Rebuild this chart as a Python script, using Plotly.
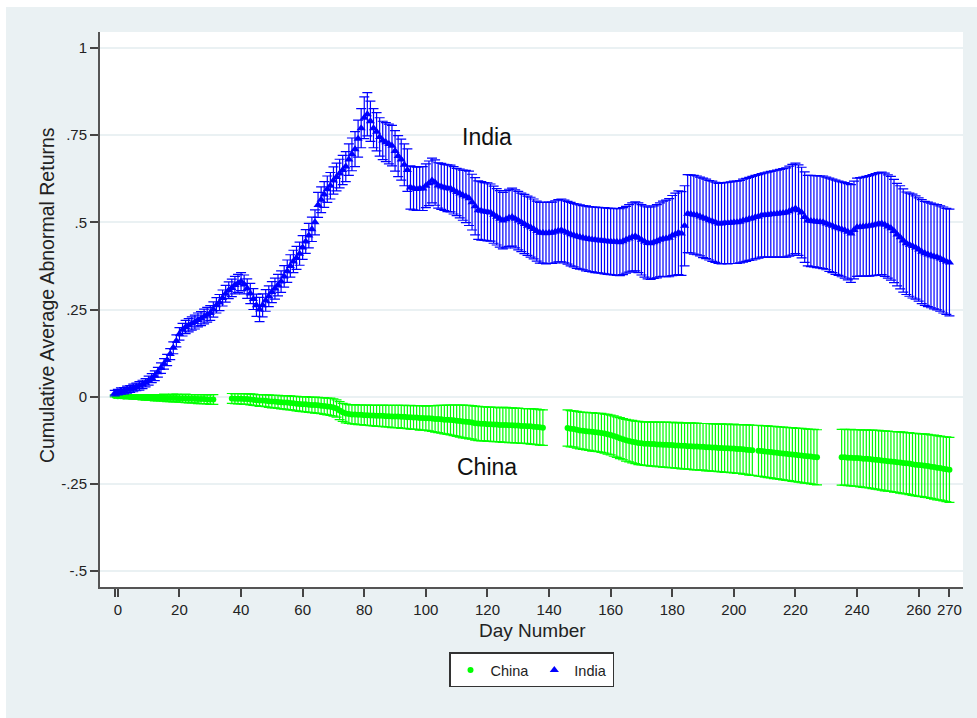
import plotly.graph_objects as go

# Event days (day -1 through day 270)
days = list(range(-1, 271))

# India: cumulative average abnormal returns and CI half-widths
india_car = [
    0.010,
    0.013, 0.016, 0.017, 0.020, 0.022, 0.025, 0.028, 0.031, 0.035, 0.040,
    0.046, 0.053, 0.060, 0.070, 0.082, 0.094, 0.105, 0.122, 0.140, 0.160,
    0.180, 0.192, 0.200, 0.205, 0.210, 0.214, 0.220, 0.224, 0.230, 0.235,
    0.240, 0.250, 0.262, 0.270, 0.283, 0.295, 0.305, 0.312, 0.320, 0.325,
    0.330, 0.322, 0.310, 0.296, 0.280, 0.262, 0.250, 0.262, 0.276, 0.288,
    0.300, 0.310, 0.320, 0.330, 0.345, 0.360, 0.375, 0.388, 0.398, 0.410,
    0.428, 0.445, 0.462, 0.480, 0.500, 0.550, 0.565, 0.580, 0.595, 0.605,
    0.620, 0.630, 0.640, 0.650, 0.660, 0.680, 0.695, 0.710, 0.740, 0.770,
    0.800, 0.810, 0.790, 0.770, 0.760, 0.745, 0.735, 0.730, 0.725, 0.720,
    0.705, 0.690, 0.680, 0.665, 0.650, 0.600, 0.598, 0.596, 0.597, 0.597,
    0.605, 0.612, 0.620, 0.614, 0.606, 0.603, 0.600, 0.598, 0.597, 0.592,
    0.587, 0.583, 0.578, 0.574, 0.569, 0.558, 0.546, 0.535, 0.533, 0.531,
    0.530, 0.528, 0.522, 0.516, 0.510, 0.505, 0.509, 0.513, 0.515, 0.510,
    0.505, 0.500, 0.495, 0.490, 0.486, 0.481, 0.475, 0.470, 0.470, 0.469,
    0.470, 0.470, 0.473, 0.476, 0.477, 0.474, 0.470, 0.466, 0.463, 0.460,
    0.458, 0.456, 0.454, 0.452, 0.451, 0.450, 0.449, 0.448, 0.447, 0.446,
    0.445, 0.444, 0.444, 0.443, 0.446, 0.450, 0.454, 0.458, 0.460, 0.456,
    0.450, 0.445, 0.441, 0.440, 0.443, 0.446, 0.450, 0.453, 0.454, 0.456,
    0.462, 0.466, 0.470, 0.468, 0.490, 0.525, 0.524, 0.522, 0.520, 0.517,
    0.513, 0.510, 0.506, 0.503, 0.500, 0.497, 0.497, 0.498, 0.498, 0.499,
    0.500, 0.500, 0.502, 0.505, 0.507, 0.510, 0.512, 0.515, 0.517, 0.520,
    0.521, 0.522, 0.523, 0.524, 0.525, 0.526, 0.527, 0.528, 0.532, 0.536,
    0.540, 0.535, 0.528, 0.515, 0.505, 0.504, 0.503, 0.502, 0.501, 0.500,
    0.497, 0.493, 0.490, 0.486, 0.483, 0.480, 0.477, 0.473, 0.468, 0.478,
    0.486, 0.487, 0.488, 0.489, 0.490, 0.492, 0.494, 0.496, 0.497, 0.493,
    0.488, 0.483, 0.475, 0.465, 0.457, 0.448, 0.440, 0.436, 0.432, 0.428,
    0.422, 0.416, 0.411, 0.408, 0.405, 0.402, 0.400, 0.396, 0.392, 0.388,
    0.385,
]

india_ci = [
    0.008,
    0.008, 0.009, 0.009, 0.010, 0.010, 0.011, 0.011, 0.012, 0.012, 0.012,
    0.013, 0.013, 0.014, 0.014, 0.015, 0.015, 0.016, 0.016, 0.017, 0.017,
    0.018, 0.018, 0.019, 0.019, 0.019, 0.020, 0.020, 0.020, 0.021, 0.021,
    0.021, 0.022, 0.022, 0.023, 0.023, 0.024, 0.024, 0.025, 0.025, 0.026,
    0.026, 0.027, 0.028, 0.029, 0.030, 0.032, 0.035, 0.033, 0.031, 0.030,
    0.030, 0.030, 0.031, 0.031, 0.031, 0.032, 0.032, 0.032, 0.033, 0.033,
    0.034, 0.034, 0.035, 0.035, 0.036, 0.036, 0.037, 0.037, 0.038, 0.038,
    0.039, 0.040, 0.041, 0.042, 0.043, 0.045, 0.047, 0.050, 0.053, 0.056,
    0.060, 0.062, 0.058, 0.056, 0.055, 0.055, 0.055, 0.056, 0.057, 0.058,
    0.058, 0.059, 0.059, 0.060, 0.061, 0.062, 0.062, 0.062, 0.063, 0.063,
    0.063, 0.064, 0.064, 0.065, 0.065, 0.066, 0.066, 0.067, 0.067, 0.068,
    0.068, 0.070, 0.072, 0.075, 0.078, 0.080, 0.082, 0.084, 0.084, 0.083,
    0.083, 0.082, 0.082, 0.081, 0.081, 0.081, 0.082, 0.082, 0.083, 0.083,
    0.084, 0.084, 0.085, 0.085, 0.086, 0.086, 0.086, 0.087, 0.087, 0.088,
    0.088, 0.088, 0.089, 0.089, 0.090, 0.090, 0.090, 0.091, 0.091, 0.092,
    0.092, 0.092, 0.093, 0.093, 0.093, 0.094, 0.094, 0.094, 0.095, 0.095,
    0.095, 0.095, 0.096, 0.096, 0.096, 0.096, 0.097, 0.098, 0.099, 0.100,
    0.101, 0.102, 0.103, 0.104, 0.104, 0.105, 0.106, 0.108, 0.110, 0.112,
    0.115, 0.118, 0.120, 0.120, 0.115, 0.112, 0.112, 0.113, 0.113, 0.113,
    0.114, 0.114, 0.114, 0.115, 0.115, 0.115, 0.116, 0.116, 0.117, 0.117,
    0.118, 0.118, 0.118, 0.119, 0.119, 0.119, 0.120, 0.120, 0.120, 0.120,
    0.121, 0.122, 0.123, 0.124, 0.125, 0.126, 0.127, 0.128, 0.129, 0.130,
    0.130, 0.130, 0.130, 0.130, 0.130, 0.131, 0.131, 0.132, 0.132, 0.133,
    0.133, 0.134, 0.134, 0.135, 0.135, 0.136, 0.137, 0.138, 0.140, 0.140,
    0.141, 0.141, 0.142, 0.143, 0.144, 0.145, 0.146, 0.147, 0.147, 0.148,
    0.148, 0.149, 0.148, 0.147, 0.148, 0.148, 0.147, 0.148, 0.149, 0.148,
    0.148, 0.149, 0.149, 0.150, 0.150, 0.150, 0.151, 0.151, 0.152, 0.152,
    0.153,
]

# China: cumulative average abnormal returns and CI half-widths (None = no observation)
china_car = [
    0.002,
    0.001, 0.001, 0.000, 0.000, 0.000, -0.001, -0.001, -0.001, -0.002, -0.002,
    -0.002, -0.002, -0.003, -0.003, -0.003, -0.003, -0.004, -0.004, -0.004, -0.004,
    -0.005, -0.005, -0.005, -0.006, -0.006, -0.006, -0.007, -0.007, -0.007, -0.008,
    -0.008, -0.008, None, None, None, None, None, -0.005, -0.006, -0.006,
    -0.006, -0.007, -0.007, -0.008, -0.009, -0.010, -0.011, -0.011, -0.012, -0.013,
    -0.014, -0.014, -0.015, -0.016, -0.017, -0.017, -0.018, -0.019, -0.020, -0.021,
    -0.022, -0.022, -0.023, -0.024, -0.024, -0.025, -0.026, -0.027, -0.028, -0.029,
    -0.031, -0.034, -0.040, -0.045, -0.048, -0.050, -0.051, -0.051, -0.052, -0.052,
    -0.053, -0.053, -0.054, -0.054, -0.055, -0.055, -0.055, -0.056, -0.056, -0.057,
    -0.057, -0.057, -0.058, -0.058, -0.059, -0.059, -0.060, -0.060, -0.061, -0.061,
    -0.062, -0.062, -0.063, -0.064, -0.064, -0.065, -0.066, -0.066, -0.067, -0.068,
    -0.069, -0.070, -0.071, -0.072, -0.073, -0.074, -0.076, -0.077, -0.078, -0.078,
    -0.079, -0.079, -0.080, -0.080, -0.081, -0.081, -0.081, -0.082, -0.082, -0.083,
    -0.083, -0.084, -0.084, -0.085, -0.085, -0.086, -0.087, -0.088, -0.089, None,
    None, None, None, None, None, None, -0.090, -0.092, -0.093, -0.095,
    -0.097, -0.098, -0.099, -0.100, -0.101, -0.102, -0.103, -0.104, -0.106, -0.108,
    -0.110, -0.113, -0.116, -0.119, -0.122, -0.125, -0.127, -0.129, -0.131, -0.133,
    -0.134, -0.135, -0.135, -0.136, -0.136, -0.137, -0.137, -0.138, -0.138, -0.139,
    -0.139, -0.140, -0.140, -0.141, -0.141, -0.142, -0.142, -0.143, -0.143, -0.144,
    -0.144, -0.145, -0.145, -0.146, -0.146, -0.147, -0.147, -0.148, -0.148, -0.149,
    -0.149, -0.150, -0.150, -0.151, -0.152, -0.153, -0.154, None, -0.155, -0.156,
    -0.157, -0.158, -0.159, -0.160, -0.161, -0.162, -0.163, -0.164, -0.165, -0.166,
    -0.167, -0.168, -0.169, -0.170, -0.171, -0.172, -0.173, -0.174, None, None,
    None, None, None, None, None, -0.174, -0.174, -0.175, -0.175, -0.176,
    -0.176, -0.177, -0.178, -0.178, -0.179, -0.180, -0.181, -0.182, -0.183, -0.184,
    -0.185, -0.186, -0.187, -0.188, -0.189, -0.190, -0.191, -0.192, -0.194, -0.195,
    -0.196, -0.197, -0.198, -0.199, -0.201, -0.202, -0.204, -0.205, -0.207, -0.208,
    -0.210,
]

china_ci = [
    0.003,
    0.003, 0.004, 0.004, 0.005, 0.005, 0.006, 0.006, 0.007, 0.007, 0.008,
    0.008, 0.008, 0.009, 0.009, 0.009, 0.010, 0.010, 0.010, 0.011, 0.011,
    0.011, 0.011, 0.012, 0.012, 0.012, 0.012, 0.013, 0.013, 0.013, 0.013,
    0.014, 0.014, None, None, None, None, None, 0.014, 0.014, 0.015,
    0.015, 0.015, 0.015, 0.016, 0.016, 0.016, 0.017, 0.017, 0.017, 0.018,
    0.018, 0.018, 0.019, 0.019, 0.019, 0.020, 0.020, 0.020, 0.021, 0.021,
    0.021, 0.022, 0.022, 0.022, 0.023, 0.023, 0.023, 0.024, 0.024, 0.025,
    0.025, 0.025, 0.026, 0.026, 0.027, 0.027, 0.027, 0.028, 0.028, 0.028,
    0.029, 0.029, 0.029, 0.030, 0.030, 0.030, 0.031, 0.031, 0.031, 0.032,
    0.032, 0.032, 0.033, 0.033, 0.033, 0.034, 0.034, 0.034, 0.035, 0.035,
    0.035, 0.036, 0.037, 0.038, 0.039, 0.040, 0.041, 0.042, 0.043, 0.044,
    0.045, 0.046, 0.047, 0.047, 0.048, 0.048, 0.049, 0.049, 0.049, 0.049,
    0.049, 0.049, 0.049, 0.049, 0.049, 0.050, 0.050, 0.050, 0.050, 0.050,
    0.050, 0.050, 0.050, 0.050, 0.051, 0.051, 0.051, 0.051, 0.051, None,
    None, None, None, None, None, None, 0.052, 0.052, 0.052, 0.053,
    0.053, 0.053, 0.054, 0.054, 0.055, 0.055, 0.055, 0.056, 0.056, 0.057,
    0.057, 0.058, 0.058, 0.059, 0.059, 0.060, 0.060, 0.061, 0.061, 0.062,
    0.062, 0.062, 0.063, 0.063, 0.063, 0.064, 0.064, 0.064, 0.065, 0.065,
    0.065, 0.065, 0.066, 0.066, 0.066, 0.066, 0.067, 0.067, 0.067, 0.067,
    0.067, 0.068, 0.068, 0.068, 0.068, 0.068, 0.069, 0.069, 0.069, 0.069,
    0.070, 0.070, 0.070, 0.071, 0.071, 0.072, 0.072, None, 0.073, 0.073,
    0.074, 0.074, 0.074, 0.075, 0.075, 0.075, 0.076, 0.076, 0.076, 0.077,
    0.077, 0.077, 0.078, 0.078, 0.078, 0.078, 0.079, 0.079, None, None,
    None, None, None, None, None, 0.080, 0.080, 0.080, 0.081, 0.081,
    0.081, 0.082, 0.082, 0.083, 0.083, 0.084, 0.084, 0.085, 0.085, 0.086,
    0.086, 0.086, 0.087, 0.087, 0.088, 0.088, 0.088, 0.089, 0.089, 0.090,
    0.090, 0.090, 0.091, 0.091, 0.091, 0.092, 0.092, 0.092, 0.092, 0.093,
    0.093,
]

x_tickvals = [-1, 0, 20, 40, 60, 80, 100, 120, 140, 160, 180, 200, 220, 240, 260, 270]
x_ticktext = ["", "0", "20", "40", "60", "80", "100", "120", "140", "160", "180",
              "200", "220", "240", "260", "270"]
y_tickvals = [-0.5, -0.25, 0, 0.25, 0.5, 0.75, 1]
y_ticktext = ["-.5", "-.25", "0", ".25", ".5", ".75", "1"]

FONT = "Liberation Sans, Arial, sans-serif"
BG = "#eaf1f3"

fig = go.Figure()

fig.add_trace(go.Scatter(
    x=days, y=china_car, name="China", mode="markers",
    marker=dict(symbol="circle", size=6, color="#00ff00"),
    error_y=dict(type="data", array=china_ci, visible=True,
                 color="#00ff00", thickness=1.2, width=5),
))

fig.add_trace(go.Scatter(
    x=days, y=india_car, name="India", mode="markers",
    marker=dict(symbol="triangle-up", size=8, color="#0000ff"),
    error_y=dict(type="data", array=india_ci, visible=True,
                 color="#0000ff", thickness=1.2, width=5),
))

axis_common = dict(
    showline=True, linecolor="#555555", linewidth=2,
    ticks="outside", ticklen=8, tickwidth=1.5, tickcolor="#444444",
    tickfont=dict(family=FONT, size=15, color="#222222"),
    zeroline=False, mirror=False,
)

fig.update_xaxes(
    range=[-5.8, 274.4], tickmode="array",
    tickvals=x_tickvals, ticktext=x_ticktext,
    showgrid=False, **axis_common,
)
fig.update_yaxes(
    range=[-0.546, 1.046], tickmode="array",
    tickvals=y_tickvals, ticktext=y_ticktext,
    showgrid=True, gridcolor=BG, gridwidth=1.5,
    **axis_common,
)

fig.update_layout(
    width=977, height=718,
    margin=dict(l=100, r=14, t=32, b=131),
    paper_bgcolor=BG,
    plot_bgcolor="white",
    font=dict(family=FONT, color="#222222"),
    showlegend=True,
    legend=dict(
        orientation="h", x=0.5, y=-0.118, xanchor="center", yanchor="top",
        bgcolor="white", bordercolor="#333333", borderwidth=1.5,
        font=dict(family=FONT, size=14.5, color="#222222"),
    ),
    shapes=[
        # thin white page border along the top and left edges
        dict(type="rect", xref="paper", yref="paper", layer="below",
             x0=-0.12, x1=1.02, y0=1.045, y1=1.07,
             fillcolor="white", line=dict(width=0)),
        dict(type="rect", xref="paper", yref="paper", layer="below",
             x0=-0.12, x1=-0.1089, y0=-0.24, y1=1.07,
             fillcolor="white", line=dict(width=0)),
    ],
    annotations=[
        dict(text="India", x=120, y=0.745, xref="x", yref="y", showarrow=False,
             font=dict(family=FONT, size=23, color="#111111")),
        dict(text="China", x=120, y=-0.203, xref="x", yref="y", showarrow=False,
             font=dict(family=FONT, size=23, color="#111111")),
        dict(text="Day Number", x=0.5006, y=-0.0775, xref="paper", yref="paper",
             showarrow=False, xanchor="center", yanchor="middle",
             font=dict(family=FONT, size=19, color="#222222")),
        dict(text="Cumulative Average Abnormal Returns", x=-0.0614, y=0.526,
             xref="paper", yref="paper", showarrow=False, textangle=-90,
             xanchor="center", yanchor="middle",
             font=dict(family=FONT, size=19.5, color="#222222")),
    ],
)

fig.write_html("out.html")
